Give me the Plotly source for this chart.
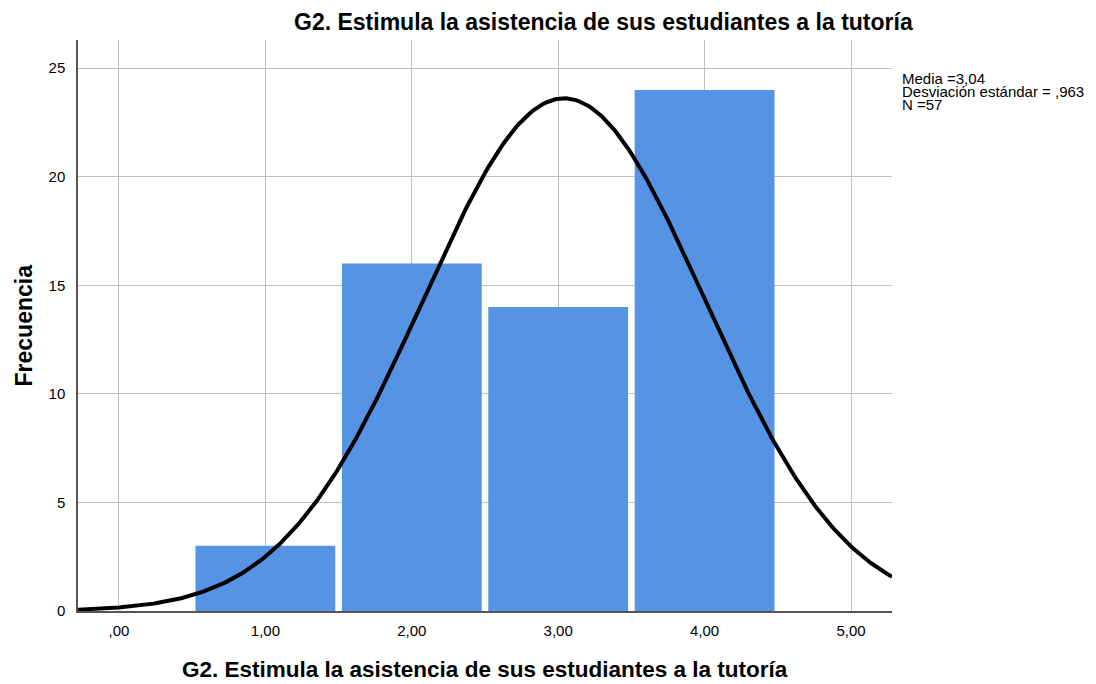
import numpy as np
import plotly.graph_objects as go

# Data
categories = [1, 2, 3, 4]
frequencies = [3, 16, 14, 24]
tick_vals = [0, 1, 2, 3, 4, 5]
tick_text = [",00", "1,00", "2,00", "3,00", "4,00", "5,00"]
y_tick_vals = [0, 5, 10, 15, 20, 25]
mean_val = 3.04
sd_val = 0.963
n_val = 57
title = "G2. Estimula la asistencia de sus estudiantes a la tutoría"
y_title = "Frecuencia"
stat_lines = ["Media =3,04", "Desviación estándar = ,963", "N =57"]

# Normal curve from the reported statistics (bin width 1)
xs = np.linspace(-0.28, 5.28, 400)
ys = n_val * 1.0 / (sd_val * np.sqrt(2 * np.pi)) * np.exp(-0.5 * ((xs - mean_val) / sd_val) ** 2)

fig = go.Figure()
fig.add_trace(go.Bar(x=categories, y=frequencies, width=0.955,
                     marker=dict(color="#5594E5", line=dict(width=0)),
                     hoverinfo="x+y"))
fig.add_trace(go.Scatter(x=xs, y=ys, mode="lines",
                         line=dict(color="black", width=4), hoverinfo="skip"))

font_family = "Liberation Sans, Arial, sans-serif"
W, H = 1088, 676
L, T, PW, PH = 70, 32, 814, 571
fig.update_layout(
    width=W, height=H,
    paper_bgcolor="white", plot_bgcolor="white",
    showlegend=False,
    margin=dict(l=L, r=W - L - PW, t=T, b=H - T - PH, autoexpand=False),
    font=dict(family=font_family, size=15, color="black"),
    xaxis=dict(range=[-0.28, 5.28], tickvals=tick_vals, ticktext=tick_text,
               showgrid=True, gridcolor="#BFBFBF", gridwidth=1,
               zeroline=False, showline=True, linecolor="#555555", linewidth=1.5,
               ticks="", ticklabelstandoff=5, tickfont=dict(size=15)),
    yaxis=dict(range=[0, 26.3], tickvals=y_tick_vals,
               showgrid=True, gridcolor="#BFBFBF", gridwidth=1,
               zeroline=False, showline=True, linecolor="#555555", linewidth=1.5,
               ticks="", ticklabelstandoff=8, tickfont=dict(size=15)),
)

# Chart title
fig.add_annotation(text="<b>" + title + "</b>", xref="paper", yref="paper",
                   x=525 / PW, xanchor="center", y=1, yshift=T - 14, yanchor="middle",
                   showarrow=False, font=dict(size=23, color="black"))
# X axis title
fig.add_annotation(text="<b>" + title + "</b>", xref="paper", yref="paper",
                   x=0.5, xanchor="center", y=0, yshift=-58, yanchor="middle",
                   showarrow=False, font=dict(size=22.5, color="black"))
# Y axis title
fig.add_annotation(text="<b>" + y_title + "</b>", xref="paper", yref="paper",
                   x=0, xshift=-55, xanchor="center", y=0.5, yanchor="middle",
                   textangle=-90, showarrow=False, font=dict(size=23, color="black"))

for i, t in enumerate(stat_lines):
    fig.add_annotation(text=t, xref="paper", yref="paper", x=1, xshift=8, xanchor="left",
                       y=1, yshift=-(38 + 13 * i), yanchor="middle", showarrow=False,
                       font=dict(size=15, color="black"))

fig.write_html("out.html")
